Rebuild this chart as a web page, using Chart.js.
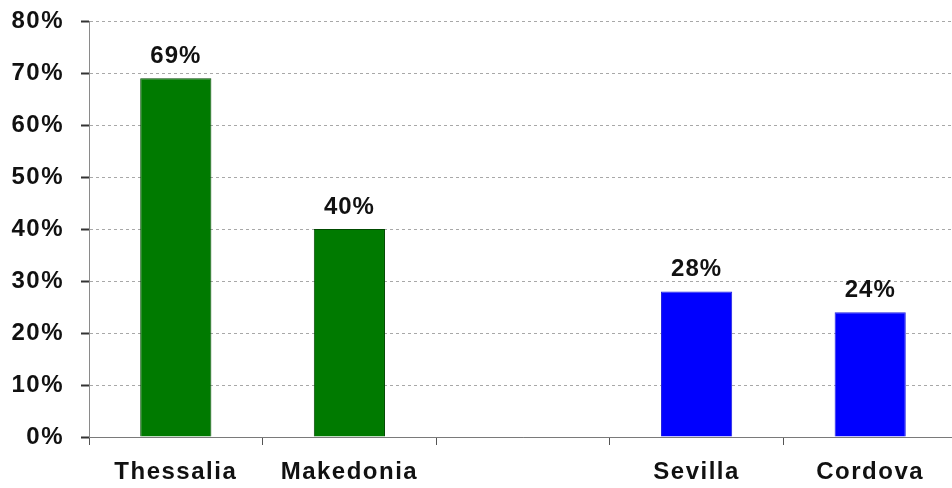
<!DOCTYPE html>
<html>
<head>
<meta charset="utf-8">
<script src="https://cdn.jsdelivr.net/npm/chart.js@4/dist/chart.umd.min.js"></script>
<style>
  html, body { margin: 0; padding: 0; background: #fff; overflow: hidden; }
  #wrap { position: relative; width: 957px; height: 488px; }
</style>
</head>
<body>
<div id="wrap"><canvas id="chart"></canvas></div>
<script>
  'use strict';

  // regions and their share; the blank slot separates the two countries
  const regions = ['Thessalia', 'Makedonia', '', 'Sevilla', 'Cordova'];
  const countries = ['Greece', 'Greece', '', 'Spain', 'Spain'];
  const shares = [69, 40, null, 28, 24];
  const yTicks = [0, 10, 20, 30, 40, 50, 60, 70, 80];

  const FONT = '"Liberation Sans", Arial, sans-serif';
  const fill = { Greece: '#007a00', Spain: '#0000ff' };
  const edge = { Greece: '#004a00', Spain: '#2020e0' };

  // draws the value above each bar
  const valueLabels = {
    id: 'valueLabels',
    afterDatasetsDraw(chart) {
      const ctx = chart.ctx;
      const meta = chart.getDatasetMeta(0);
      ctx.save();
      ctx.font = 'bold 24px ' + FONT;
      ctx.letterSpacing = '1px';
      ctx.fillStyle = '#111';
      ctx.textAlign = 'center';
      ctx.textBaseline = 'alphabetic';
      meta.data.forEach(function (bar, i) {
        if (shares[i] == null) return;
        ctx.fillText(shares[i] + '%', bar.x, bar.y - 15);
      });
      ctx.restore();
    }
  };

  // spaced lettering for the axis text
  const spacedText = {
    id: 'spacedText',
    beforeDraw(chart) { chart.ctx.letterSpacing = '1.5px'; },
    beforeDatasetsDraw(chart) { chart.ctx.letterSpacing = '0px'; }
  };

  new Chart(document.getElementById('chart'), {
    type: 'bar',
    data: {
      labels: regions,
      datasets: [{
        data: shares,
        backgroundColor: countries.map(function (c) { return fill[c] || 'transparent'; }),
        borderColor: countries.map(function (c) { return edge[c] || 'transparent'; }),
        borderWidth: 1,
        categoryPercentage: 1,
        barPercentage: 0.41
      }]
    },
    options: {
      responsive: true,
      maintainAspectRatio: false,
      animation: false,
      layout: { padding: { top: 21, left: 0, right: 0, bottom: 0 } },
      plugins: { legend: { display: false }, tooltip: { enabled: false } },
      scales: {
        x: {
          grid: { drawOnChartArea: false, offset: true, tickLength: 8, tickColor: '#555', tickWidth: 1 },
          border: { color: '#7a7a7a', width: 1 },
          ticks: { color: '#111', font: { family: FONT, size: 24, weight: 'bold' }, padding: 13, maxRotation: 0, autoSkip: false },
          afterFit: function (s) { s.height = 51; }
        },
        y: {
          min: 0,
          max: 80,
          afterBuildTicks: function (s) { s.ticks = yTicks.map(function (v) { return { value: v }; }); },
          grid: { color: '#a8a8a8', lineWidth: 1, tickLength: 8, tickColor: '#333', tickWidth: 2 },
          border: { color: '#8a8a8a', width: 1, dash: [3, 3] },
          ticks: {
            color: '#111',
            font: { family: FONT, size: 24, weight: 'bold' },
            padding: 17,
            callback: function (v) { return v + '%'; }
          },
          afterFit: function (s) {
            s.width = 89;
            s.paddingTop = 0;
            s.paddingBottom = 0;
          }
        }
      }
    },
    plugins: [spacedText, valueLabels]
  });
</script>
</body>
</html>
